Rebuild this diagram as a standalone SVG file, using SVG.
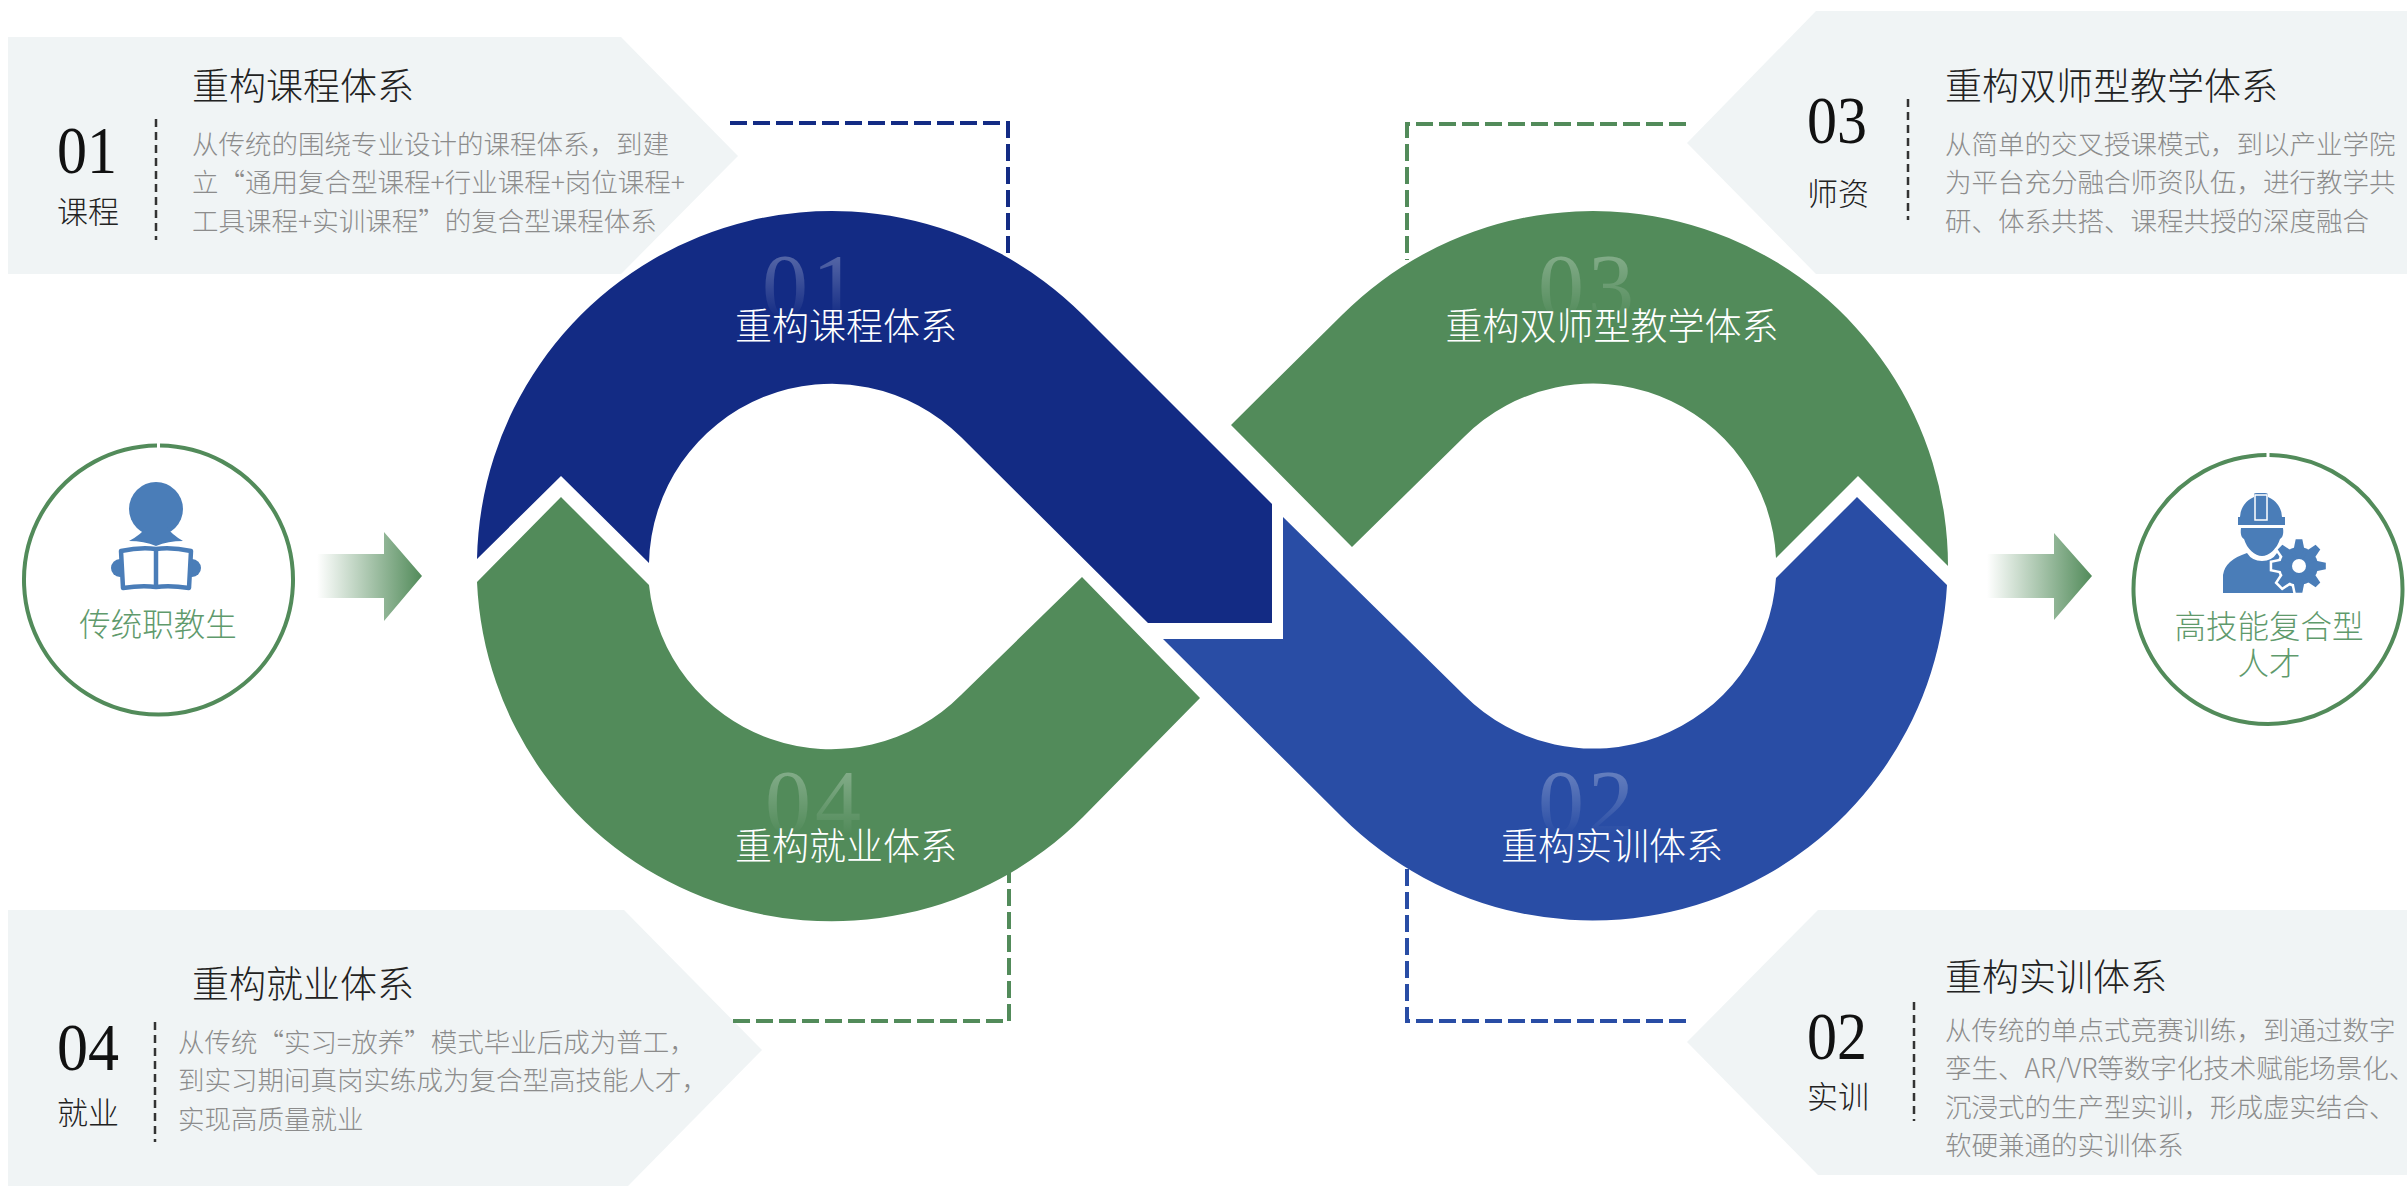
<svg xmlns="http://www.w3.org/2000/svg" xmlns:xlink="http://www.w3.org/1999/xlink" width="2407" height="1187" viewBox="0 0 2407 1187">
<style>
text{font-family:"Noto Sans CJK SC","Noto Sans",sans-serif;font-weight:300}
.panel{fill:#f0f4f5}
.num{font-family:"Liberation Serif","Noto Sans CJK SC",serif;font-size:67px;fill:#111}
.tag{font-size:31px;fill:#222}
.title{font-size:37px;fill:#222}
.body{font-size:26.5px;fill:#8c8c8c}
.vd{stroke:#333;stroke-width:2.5;stroke-dasharray:8 5;fill:none}
.ld{stroke-width:4;stroke-dasharray:17 6;fill:none}
.band-label{font-size:37px;fill:#fff;text-anchor:middle}
.ghost{font-family:"Liberation Serif",serif;font-size:92px;text-anchor:middle;letter-spacing:4px}
.cap{font-size:31.5px;fill:#5f9a6c;text-anchor:middle}
.ring{fill:none;stroke:#528b5a;stroke-width:4}
.ico{fill:#4a7db8}
</style>
<defs>
<linearGradient id="arrowG" x1="0" y1="0" x2="1" y2="0"><stop offset="0" stop-color="#528b5a" stop-opacity="0"/><stop offset="1" stop-color="#528b5a"/></linearGradient>
<linearGradient id="ghostT" gradientUnits="userSpaceOnUse" x1="0" y1="256" x2="0" y2="318"><stop offset="0" stop-color="#fff" stop-opacity=".28"/><stop offset="1" stop-color="#fff" stop-opacity="0"/></linearGradient>
<linearGradient id="ghostB" gradientUnits="userSpaceOnUse" x1="0" y1="772" x2="0" y2="834"><stop offset="0" stop-color="#fff" stop-opacity=".28"/><stop offset="1" stop-color="#fff" stop-opacity="0"/></linearGradient>
<path id="tooth" d="M0,0L18.4,-5L26.8,-3.3L26.8,3.3L18.4,5Z"/>
</defs>

<g id="panel-01">
<path class="panel" d="M8,37H621L738,156L621,274H8Z"/>
<text class="title" x="192" y="100">重构课程体系</text>
<text class="num" x="57" y="173" textLength="60" lengthAdjust="spacingAndGlyphs">01</text>
<text class="tag" x="57" y="223">课程</text>
<path class="vd" d="M156,119V240"/>
<text class="body" x="192" y="154">从传统的围绕专业设计的课程体系，到建</text>
<text class="body" x="192" y="192">立“通用复合型课程+行业课程+岗位课程+</text>
<text class="body" x="192" y="231">工具课程+实训课程”的复合型课程体系</text>
</g>
<g id="panel-03">
<path class="panel" d="M1816,11H2407V274H1816L1687,143Z"/>
<text class="title" x="1945" y="100">重构双师型教学体系</text>
<text class="num" x="1807" y="143" textLength="60" lengthAdjust="spacingAndGlyphs">03</text>
<text class="tag" x="1807" y="205">师资</text>
<path class="vd" d="M1908,99V220"/>
<text class="body" x="1945" y="154">从简单的交叉授课模式，到以产业学院</text>
<text class="body" x="1945" y="192">为平台充分融合师资队伍，进行教学共</text>
<text class="body" x="1945" y="231">研、体系共搭、课程共授的深度融合</text>
</g>
<g id="panel-04">
<path class="panel" d="M8,910H624L762,1050L628,1186H8Z"/>
<text class="title" x="192" y="998">重构就业体系</text>
<text class="num" x="57" y="1070" textLength="62" lengthAdjust="spacingAndGlyphs">04</text>
<text class="tag" x="57" y="1124">就业</text>
<path class="vd" d="M155,1022V1142"/>
<text class="body" x="178" y="1052">从传统“实习=放养”模式毕业后成为普工，</text>
<text class="body" x="178" y="1090">到实习期间真岗实练成为复合型高技能人才，</text>
<text class="body" x="178" y="1129">实现高质量就业</text>
</g>
<g id="panel-02">
<path class="panel" d="M1818,910H2407V1175H1818L1687,1042Z"/>
<text class="title" x="1945" y="991">重构实训体系</text>
<text class="num" x="1807" y="1059" textLength="60" lengthAdjust="spacingAndGlyphs">02</text>
<text class="tag" x="1807" y="1108">实训</text>
<path class="vd" d="M1914,1002V1121"/>
<text class="body" x="1945" y="1040">从传统的单点式竞赛训练，到通过数字</text>
<text class="body" x="1945" y="1078">孪生、AR/VR等数字化技术赋能场景化、</text>
<text class="body" x="1945" y="1117">沉浸式的生产型实训，形成虚实结合、</text>
<text class="body" x="1945" y="1155">软硬兼通的实训体系</text>
</g>

<g id="connectors">
<path class="ld" stroke="#132b84" d="M730,123H1008V260"/>
<path class="ld" stroke="#528b5a" d="M1686,124H1407V260"/>
<path class="ld" stroke="#528b5a" d="M733,1021H1009V868"/>
<path class="ld" stroke="#294da5" d="M1686,1021H1407V868"/>
<path fill="url(#arrowG)" d="M317,554H384V532L422,576L384,621V598H317Z"/>
<path fill="url(#arrowG)" d="M1987,554H2054V533L2092,576L2054,620V598H1987Z"/>
</g>

<g id="band-01">
<path fill="#132b84" d="M477,559L561,476L649,563A183,183 0 0 1 961,437L1148,623H1272V504L1083,315A355,355 0 0 0 477,559Z"/>
<text class="ghost" x="812" y="317" fill="url(#ghostT)">01</text>
<text class="band-label" x="846" y="340">重构课程体系</text>
</g>
<g id="band-02">
<path fill="#294da5" d="M1283,517V639H1163L1342,817A355,355 0 0 0 1947,585L1857,497L1776,578A183,183 0 0 1 1464,695Z"/>
<text class="ghost" x="1588" y="833" fill="url(#ghostB)">02</text>
<text class="band-label" x="1612" y="860">重构实训体系</text>
</g>
<g id="band-03">
<path fill="#528b5a" d="M1231,425L1342,315A355,355 0 0 1 1948,566L1858,476L1776,558A183,183 0 0 0 1464,437L1352,547Z"/>
<text class="ghost" x="1588" y="317" fill="url(#ghostT)">03</text>
<text class="band-label" x="1612" y="340">重构双师型教学体系</text>
</g>
<g id="band-04">
<path fill="#528b5a" d="M561,497L477,582A355,355 0 0 0 1083,817L1200,698L1082,577L961,695A183,183 0 0 1 649,585Z"/>
<text class="ghost" x="815" y="833" fill="url(#ghostB)">04</text>
<text class="band-label" x="846" y="860">重构就业体系</text>
</g>

<g id="node-student">
<path class="ring" d="M157,445.500A134.500,134.500 0 1 0 160,445.500"/>
<circle class="ico" cx="156" cy="509" r="27"/>
<path class="ico" d="M129,541Q142,534 146,527L167,527Q171,534 183,541Q168,541 156,546Q144,541 129,541Z"/>
<circle class="ico" cx="120" cy="568" r="9"/><circle class="ico" cx="192" cy="568" r="9"/>
<path fill="#fff" stroke="#4a7db8" stroke-width="4.5" stroke-linejoin="round" d="M121,551Q140,547 156,549Q172,547 191,551L189,588Q170,585 156,587Q142,585 123,588Z"/>
<path stroke="#4a7db8" stroke-width="4.5" d="M156,549V587"/>
<text class="cap" x="158" y="636">传统职教生</text>
</g>
<g id="node-talent">
<path class="ring" d="M2266.500,455A134.500,134.500 0 1 0 2269.500,455"/>
<path class="ico" d="M2240,517A22,22 0 0 1 2254,497V494Q2254,493 2257,493H2265Q2268,493 2268,495V497A22,22 0 0 1 2282,517H2285V525H2238V517Z"/>
<rect x="2255" y="495" width="12" height="25" fill="none" stroke="#fff" stroke-width="1.5"/>
<path class="ico" d="M2241,528H2283C2284,535 2282,538 2280,539C2277,549 2269,556 2262,556C2255,556 2247,549 2244,539C2242,538 2240,535 2241,528Z"/>
<path class="ico" d="M2223,593V575Q2225,560 2247,553Q2252,561 2262,561Q2272,561 2277,553L2296,560V593Z"/>
<g transform="translate(2299,566)" fill="#fff" stroke="#fff" stroke-width="5">
<circle r="19"/>
<use href="#tooth"/><use href="#tooth" transform="rotate(45)"/><use href="#tooth" transform="rotate(90)"/><use href="#tooth" transform="rotate(135)"/><use href="#tooth" transform="rotate(180)"/><use href="#tooth" transform="rotate(225)"/><use href="#tooth" transform="rotate(270)"/><use href="#tooth" transform="rotate(315)"/>
</g>
<g transform="translate(2299,566)" fill="#4a7db8">
<circle r="19"/>
<use href="#tooth"/><use href="#tooth" transform="rotate(45)"/><use href="#tooth" transform="rotate(90)"/><use href="#tooth" transform="rotate(135)"/><use href="#tooth" transform="rotate(180)"/><use href="#tooth" transform="rotate(225)"/><use href="#tooth" transform="rotate(270)"/><use href="#tooth" transform="rotate(315)"/>
<circle r="7" fill="#fff"/>
</g>
<text class="cap" x="2269" y="638">高技能复合型</text>
<text class="cap" x="2269" y="675">人才</text>
</g>
</svg>
